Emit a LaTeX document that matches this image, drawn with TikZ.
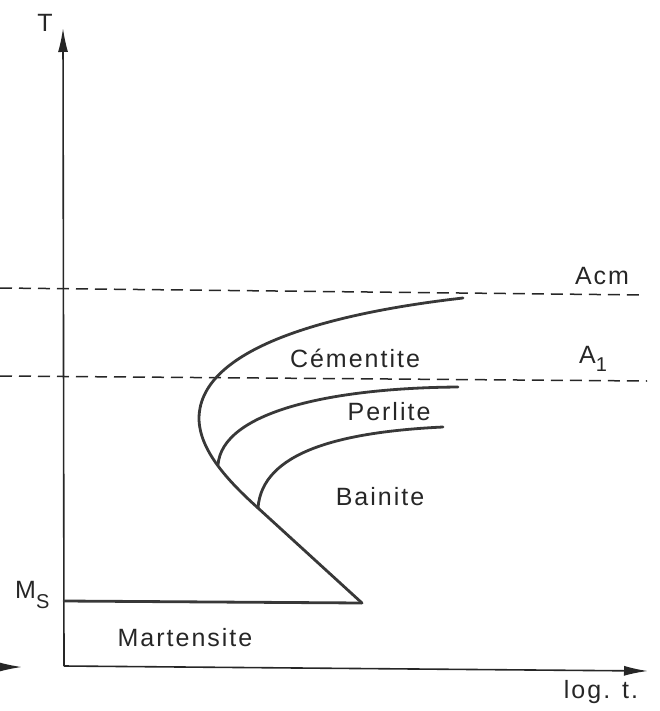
\documentclass[tikz,border=0pt]{standalone}
\usepackage{fontspec}
\setmainfont[LetterSpace=8]{Liberation Sans}
\usetikzlibrary{arrows.meta}
\begin{document}
\begin{tikzpicture}[x=1pt,y=-1pt,
  axis/.style={line width=1.6pt,draw=black!85},
  curve/.style={line width=2.8pt,draw=black!78,line cap=round},
  dline/.style={line width=1.5pt,draw=black!85,dash pattern=on 12pt off 7pt},
  lbl/.style={font=\fontsize{25}{25}\selectfont,text=black!85,inner sep=0pt},
  tip/.style={-{Latex[length=24pt,width=10pt]}}]
\useasboundingbox (0,0) rectangle (660,711);
\clip (0,0) rectangle (660,711);
% coordinates
\coordinate (O) at (64,666);
\coordinate (Ytop) at (63,28);
\coordinate (Xend) at (648,671);
\coordinate (Lstart) at (-30,667);
\coordinate (Lend) at (22,667);
\coordinate (AcmL) at (0,288);
\coordinate (AcmR) at (643,295);
\coordinate (A1L) at (0,376);
\coordinate (A1R) at (647,381);
\coordinate (MsL) at (64,601);
\coordinate (MsR) at (362,603);
\coordinate (C1) at (463,298);
\coordinate (Nose) at (199,418);
\coordinate (Pj) at (218,465);
\coordinate (Bj) at (258,508);
\coordinate (P1) at (458,387);
\coordinate (B1) at (443,427);
% axes
\draw[axis,tip] (O) -- (Ytop);
\draw[axis,tip] (O) -- (Xend);
\draw[axis,tip] (Lstart) -- (Lend);
% dashed lines
\draw[dline] (AcmL) -- (AcmR);
\draw[dline] (A1L) -- (A1R);
% Ms line
\draw[curve] (MsL) -- (MsR);
% outer C curve
\draw[curve] (C1) .. controls (340,312) and (200,345) .. (Nose)
  .. controls (199,450) and (228,481) .. (Bj) -- (MsR);
% perlite curve
\draw[curve] (P1) .. controls (330,388) and (222,412) .. (Pj);
% bainite curve
\draw[curve] (B1) .. controls (340,432) and (262,452) .. (Bj);
% labels
\node[lbl] (T) at (45,23) {T};
\node[lbl] (logt) at (601,692) {log. t.};
\node[lbl,anchor=west] (Ms) at (15,595) {M\raisebox{-10pt}{\fontsize{20}{20}\selectfont S}};
\node[lbl] (Mart) at (185,638) {Martensite};
\node[lbl] (Acm) at (602,276) {Acm};
\node[lbl,anchor=west] (A1) at (579,359) {A\raisebox{-8pt}{\fontsize{20}{20}\selectfont 1}};
\node[lbl] (Cem) at (355,358) {Cémentite};
\node[lbl] (Perl) at (389,412) {Perlite};
\node[lbl] (Bain) at (380,497) {Bainite};
\end{tikzpicture}
\end{document}
